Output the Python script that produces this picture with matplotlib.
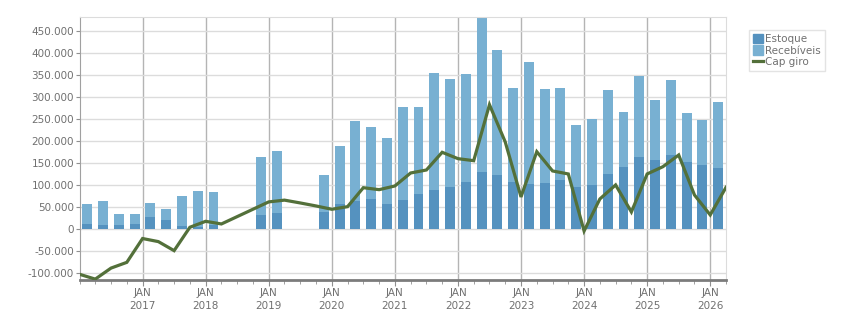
import matplotlib
matplotlib.use("Agg")
import matplotlib.pyplot as plt
from matplotlib.ticker import FixedLocator, FuncFormatter
from matplotlib.patches import Patch
from matplotlib.lines import Line2D

# ---- data (values in R$ thousands-like units as shown) ----
bar_periods = ["2016-Q1", "2016-Q2", "2016-Q3", "2016-Q4",
               "2017-Q1", "2017-Q2", "2017-Q3", "2017-Q4",
               "2018-Q1", "2018-Q4", "2019-Q1",
               "2019-Q4", "2020-Q1", "2020-Q2", "2020-Q3", "2020-Q4",
               "2021-Q1", "2021-Q2", "2021-Q3", "2021-Q4",
               "2022-Q1", "2022-Q2", "2022-Q3", "2022-Q4",
               "2023-Q1", "2023-Q2", "2023-Q3", "2023-Q4",
               "2024-Q1", "2024-Q2", "2024-Q3", "2024-Q4",
               "2025-Q1", "2025-Q2", "2025-Q3", "2025-Q4",
               "2026-Q1"]
estoque = [12000, 10000, 10000, 12000,
           28000, 21000, 7500, 4000,
           10500, 32400, 36900,
           39200, 57300, 64100, 68600, 57300,
           66400, 80000, 89000, 95800,
           107200, 129800, 123000, 107200,
           102600, 104900, 111700, 95800,
           100400, 125300, 141100, 163800,
           157000, 168000, 153000, 145700,
           138900]
recebiveis = [45000, 54000, 25000, 23000,
              32000, 25000, 67500, 82000,
              74000, 131400, 140500,
              83800, 131400, 181300, 163200, 149500,
              210600, 197000, 265100, 244700,
              244600, 355200, 283200, 212900,
              276400, 213000, 208400, 140500,
              149500, 190300, 124600, 183500,
              135900, 170200, 110500, 101900,
              149500]

# working capital line, dated at quarter boundaries
line_dates = ["2016-01", "2016-04", "2016-07", "2016-10",
              "2017-01", "2017-04", "2017-07", "2017-10",
              "2018-01", "2018-04",
              "2019-01", "2019-04", "2019-07", "2019-10",
              "2020-01", "2020-04", "2020-07", "2020-10",
              "2021-01", "2021-04", "2021-07", "2021-10",
              "2022-01", "2022-04", "2022-07", "2022-10",
              "2023-01", "2023-04", "2023-07", "2023-10",
              "2024-01", "2024-04", "2024-07", "2024-10",
              "2025-01", "2025-04", "2025-07", "2025-10",
              "2026-01", "2026-04"]
cap_giro = [-102000, -113000, -88000, -75000,
            -21000, -28000, -48500, 4500,
            18000, 12000,
            62000, 66000, 59600, 52800,
            45300, 51200, 94200, 89700,
            98100, 127500, 134300, 174400,
            160000, 155400, 282300, 197800,
            73200, 175800, 132100, 125300,
            -3900, 68600, 100400, 39200,
            125300, 141800, 168300, 77700,
            32400, 95000]

year_labels = ["2017", "2018", "2019", "2020", "2021", "2022", "2023", "2024", "2025", "2026"]

START_YEAR = 2016


def bar_x(p):
    y, q = p.split("-Q")
    return (int(y) - START_YEAR) * 4 + (int(q) - 1) + 0.5


def line_x(d):
    y, m = d.split("-")
    return (int(y) - START_YEAR) * 4 + (int(m) - 1) / 3.0


bx = [bar_x(p) for p in bar_periods]
lx = [line_x(d) for d in line_dates]

C_EST = "#5592bf"
C_REC = "#78b0d2"
C_LINE = "#53703a"
C_TXT = "#707070"

plt.rcParams["font.family"] = ["DejaVu Sans"]
fig = plt.figure(figsize=(8.51, 3.13), dpi=100)
ax = fig.add_axes([79.5 / 851, 1 - 280 / 313, (726 - 79.5) / 851, (280 - 17) / 313])

w = 0.63
ax.bar(bx, estoque, width=w, color=C_EST, zorder=2)
ax.bar(bx, recebiveis, width=w, bottom=estoque, color=C_REC, zorder=2)
ax.plot(lx, cap_giro, color=C_LINE, lw=2.3, zorder=3, solid_joinstyle="miter")

ax.set_xlim(0, 40.93)
ax.set_ylim(-115000, 481000)

yt = list(range(-100000, 450001, 50000))
ax.yaxis.set_major_locator(FixedLocator(yt))
ax.yaxis.set_major_formatter(FuncFormatter(lambda v, p: f"{int(v):,}".replace(",", ".")))
ax.grid(axis="y", color="#dcdcdc", lw=1.0, zorder=0)

year_pos = [(int(y) - START_YEAR) * 4 for y in year_labels]
for xp in year_pos:
    ax.axvline(xp, color="#b4b4b4", lw=1.0, zorder=1)
ax.set_xticks(year_pos)
ax.set_xticklabels([f"JAN\n{y}" for y in year_labels])
ax.set_xticks([i for i in range(0, 42) if i not in year_pos], minor=True)

ax.tick_params(axis="x", which="major", length=4, color="#909090", labelsize=7.5,
               labelcolor=C_TXT, pad=2)
ax.tick_params(axis="x", which="minor", length=3, color="#909090")
ax.tick_params(axis="y", length=3, color="#909090", labelsize=7.5, labelcolor=C_TXT, pad=1)
for lbl in ax.get_xticklabels():
    lbl.set_linespacing(1.35)

ax.spines["bottom"].set_color("#7c7c7c")
ax.spines["bottom"].set_linewidth(2)
ax.spines["left"].set_color("#a0a0a0")
ax.spines["top"].set_color("#dcdcdc")
ax.spines["right"].set_color("#dcdcdc")

handles = [Patch(color=C_EST, label="Estoque"),
           Patch(color=C_REC, label="Recebíveis"),
           Line2D([], [], color=C_LINE, lw=2.3, label="Cap giro")]
leg = fig.legend(handles=handles, loc="upper left", bbox_to_anchor=(749 / 851, 1 - 30 / 313),
                 fontsize=7.5, frameon=True, fancybox=False, handlelength=1.0, handleheight=1.0,
                 handletextpad=0.2, borderpad=0.35, labelspacing=0.15, borderaxespad=0)
leg.get_frame().set_edgecolor("#dcdcdc")
leg.get_frame().set_linewidth(1.0)
for t in leg.get_texts():
    t.set_color(C_TXT)

fig.savefig("out.png", dpi=100)
